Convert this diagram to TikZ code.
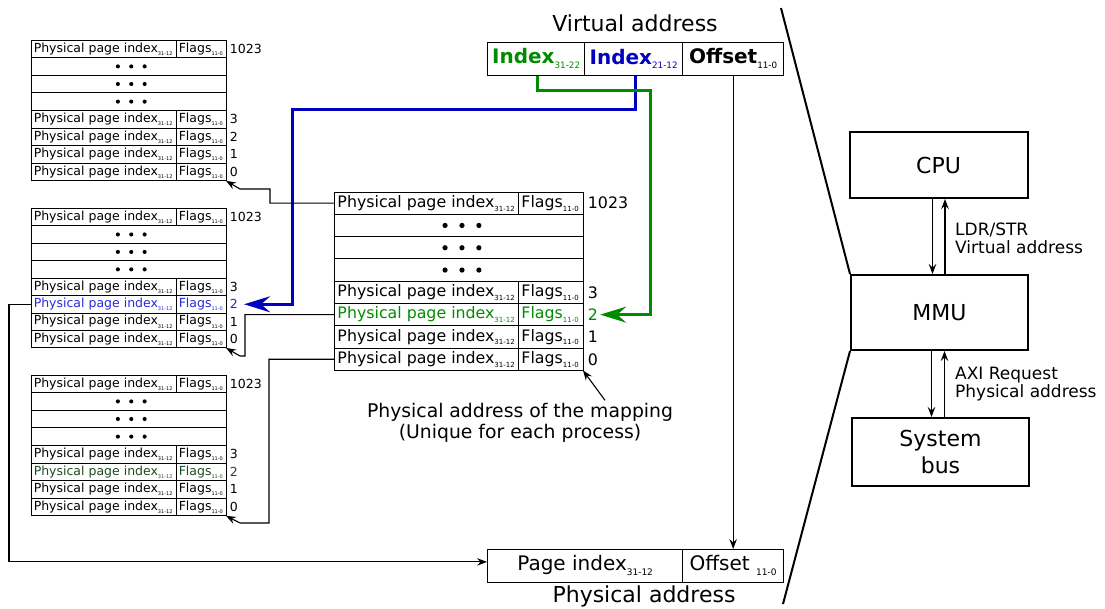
\documentclass[tikz,border=0pt]{standalone}
\usepackage{fontspec}
\setmainfont{DejaVu Sans}
\usetikzlibrary{arrows.meta}

\definecolor{idxgreen}{RGB}{0,140,0}
\definecolor{idxblue}{RGB}{0,0,190}
\definecolor{rowblue}{RGB}{40,40,220}
\definecolor{rowgreen}{RGB}{30,75,30}

\newcommand{\fsz}[1]{\fontsize{#1}{#1}\selectfont}
\newcommand{\sbs}[2]{\raisebox{-0.45ex}{\fsz{#1}#2}}

\tikzset{
  cell/.style={draw, line width=0.9pt, anchor=north west, inner sep=0pt, outer sep=0pt},
  arr/.style={line width=1.1pt, -{Stealth[length=10pt,width=7.5pt,inset=3.5pt]}},
  bigarr/.style={line width=3pt, -{Stealth[length=26pt,width=16pt,inset=9pt]}},
  block/.style={draw, line width=2pt, font=\fsz{22}, align=center, inner sep=0pt},
  addr/.style={draw, line width=1.3pt, anchor=north west, minimum height=32.5pt, inner sep=0pt, font=\fsz{20}},
  side/.style={font=\fsz{17}, align=left, anchor=west, inner sep=0pt},
}

% page table: name, left, split, right, top, row height, font size, subscript size, colour of entry 2
\newcommand{\pagetable}[9]{%
  \pgfmathsetmacro\wa{#3-#2}%
  \pgfmathsetmacro\wb{#4-#3}%
  \pgfmathsetmacro\wf{#4-#2}%
  \pgfmathsetmacro\pad{#7*0.22}%
  \pgfmathsetmacro\ta{\wa-2*\pad}%
  \pgfmathsetmacro\tb{\wb-2*\pad}%
  \pgfmathsetmacro\dsep{#7*1.07}%
  \pgfmathsetmacro\drad{#7*0.165}%
  \pgfmathsetmacro\th{#7*0.74}%
  \pgfmathsetmacro\td{#7*0.22}%
  \foreach \r/\lab in {0/1023,4/3,5/2,6/1,7/0}{%
    \pgfmathsetmacro\ry{#5+\r*#6}%
    \ifnum\r=5 \def\rc{#9}\else\def\rc{black}\fi
    \node[cell, text=\rc, font=\fsz{#7}, inner xsep=\pad pt, minimum width=\wa pt,
          minimum height=#6pt, text height=\th pt, text depth=\td pt]
      (#1-\r-a) at (#2,\ry) {\makebox[\ta pt][l]{Physical page index\sbs{#8}{31-12}}};
    \node[cell, text=\rc, font=\fsz{#7}, inner xsep=\pad pt, minimum width=\wb pt,
          minimum height=#6pt, text height=\th pt, text depth=\td pt]
      (#1-\r-b) at (#3,\ry) {\makebox[\tb pt][l]{Flags\sbs{#8}{11-0}}};
    \node[anchor=west, inner sep=0pt, text=\rc, font=\fsz{#7}]
      (#1-\r-n) at ({#4+0.3*#7},{\ry+#6/2}) {\lab};
  }
  \foreach \r in {1,2,3}{%
    \pgfmathsetmacro\ry{#5+\r*#6}%
    \node[cell, minimum width=\wf pt, minimum height=#6pt] (#1-\r) at (#2,\ry) {};
    \foreach \k in {-1,0,1}
      \fill ([xshift={(\k*\dsep+0.22*#7)*1pt}]#1-\r.center) circle (\drad pt);
  }
}

\begin{document}
\begin{tikzpicture}[x=1pt,y=-1pt]
\useasboundingbox (0,0) rectangle (1105,608);

% second-level tables (left column) and first-level table (centre)
\pagetable{A}{31}{176}{226}{40}{17.6}{12.5}{5}{black}
\pagetable{B}{31}{176}{226}{208.3}{17.45}{12.5}{5}{rowblue}
\pagetable{C}{31}{176}{226}{375}{17.6}{12.5}{5}{rowgreen}
\pagetable{M}{334}{518}{583}{192}{22.3}{15.8}{7}{idxgreen}

% virtual address
\node[font=\fsz{22}, anchor=base] (vlab) at (635,31.7) {Virtual address};
\node[addr, text=idxgreen] (VA1) at (487,42) {\makebox[97pt][c]{\textbf{Index}\sbs{8.8}{31-22}}};
\node[addr, text=idxblue] (VA2) at (584,42) {\makebox[98pt][c]{\textbf{Index}\sbs{8.8}{21-12}}};
\node[addr] (VA3) at (682,42) {\makebox[101pt][c]{\textbf{Offset}\sbs{8.8}{11-0}}};

% physical address
\node[addr] (PA1) at (487,549) {\makebox[195pt][c]{Page index\sbs{9}{31-12}}};
\node[addr] (PA2) at (682,549) {\makebox[101pt][c]{Offset \sbs{9}{11-0}}};
\node[font=\fsz{22}, anchor=base] (plab) at (644,602) {Physical address};

% note on the first-level table
\node[font=\fsz{18.8}, align=center, inner sep=0pt] (note) at (520,423)
  {Physical address of the mapping\\[2pt](Unique for each process)};
\draw[arr] ([xshift=85pt,yshift=3pt]note.north) -- (M-7-b.south east);

% table walk
\draw[bigarr, idxblue] (VA2.south -| 635,0) |- (292,109) |- ([xshift=6pt]B-5-n.east);
\draw[bigarr, idxgreen] (VA1.south -| 537,0) |- (650,90) |- ([xshift=2pt]M-5-n.east);
\draw[arr] (M-0-a.west) -| (270,189) -- (240,189) -- (A-7-b.south east);
\draw[arr] (M-5-a.west) -| (245,356) -- (240,356) -- (B-7-b.south east);
\draw[arr] (M-7-a.west) -| (269,523) -- (240,523) -- (C-7-b.south east);
\draw[arr] (B-5-a.west) -- ++(-22,0) |- ([yshift=4pt]PA1.west);
\draw[arr] (VA3.south -| PA2.north) -- (PA2.north);

% hardware side
\node[block, minimum width=178pt, minimum height=66pt] (cpu) at (938.5,165) {CPU};
\node[block, minimum width=177pt, minimum height=75pt] (mmu) at (939.5,312.5) {MMU};
\node[block, minimum width=177pt, minimum height=68pt] (bus) at (940.5,452)
  {System\\[5pt]bus};
\draw[arr] ([xshift=-6pt]cpu.south) -- ([xshift=-6pt]cpu.south |- mmu.north);
\draw[arr] ([xshift=6.5pt]cpu.south |- mmu.north) -- ([xshift=6.5pt]cpu.south);
\draw[arr] ([xshift=-8pt]mmu.south) -- ([xshift=-8pt]mmu.south |- bus.north);
\draw[arr] ([xshift=5pt]mmu.south |- bus.north) -- ([xshift=5pt]mmu.south);
\node[side] (lcpu) at (955,238) {LDR/STR\\[1pt]Virtual address};
\node[side] (lbus) at (955,384) {AXI Request\\[1pt]Physical address};
\draw[line width=2pt] (781,8) -- (mmu.north west);
\draw[line width=2pt] (mmu.south west) -- (783,604);
\end{tikzpicture}
\end{document}
